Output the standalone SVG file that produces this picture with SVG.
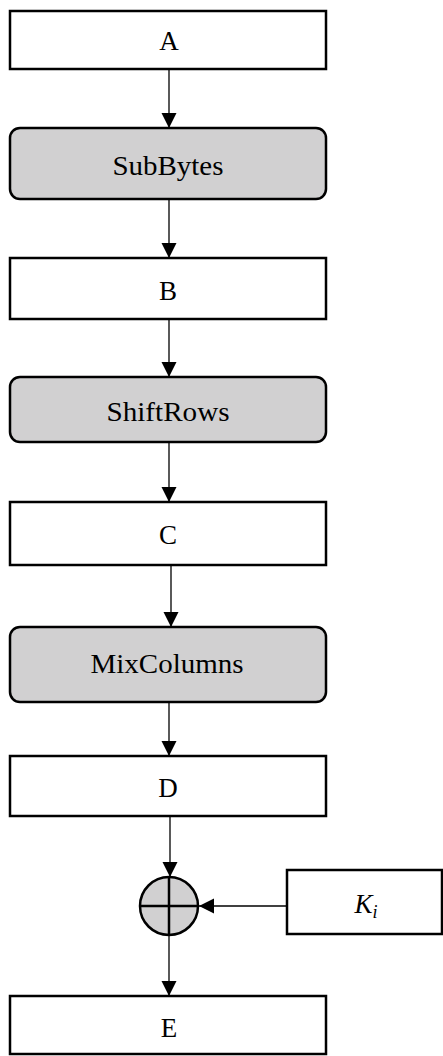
<svg xmlns="http://www.w3.org/2000/svg" width="443" height="1056" viewBox="0 0 443 1056">
<style>
.box{fill:#fff;stroke:#000;stroke-width:2.5}
.op{fill:#d1d0d1;stroke:#000;stroke-width:2.5}
.lbl{font-family:"Liberation Serif","Times New Roman",serif;font-size:27px;fill:#000;text-anchor:middle}
.edge{stroke:#000;stroke-width:1.3;fill:none}
</style>
<defs>
<marker id="arr" markerUnits="userSpaceOnUse" markerWidth="16" markerHeight="16" refX="15" refY="7.5" orient="auto">
<path d="M0,0 L15,7.5 L0,15 z" fill="#000"/>
</marker>
</defs>
<g id="connectors">
<line class="edge" x1="169" y1="69" x2="169" y2="128" marker-end="url(#arr)"/>
<line class="edge" x1="169" y1="199" x2="169" y2="258" marker-end="url(#arr)"/>
<line class="edge" x1="169" y1="319" x2="169" y2="377" marker-end="url(#arr)"/>
<line class="edge" x1="169" y1="442" x2="169" y2="502" marker-end="url(#arr)"/>
<line class="edge" x1="171" y1="565" x2="171" y2="627" marker-end="url(#arr)"/>
<line class="edge" x1="169" y1="690" x2="169" y2="756" marker-end="url(#arr)"/>
<line class="edge" x1="170" y1="816" x2="170" y2="877" marker-end="url(#arr)"/>
<line class="edge" x1="287" y1="906" x2="199" y2="906" marker-end="url(#arr)"/>
<line class="edge" x1="169" y1="935" x2="169" y2="996" marker-end="url(#arr)"/>
</g>
<g id="nodeA"><rect class="box" x="10" y="11" width="316" height="58"/><text class="lbl" x="169" y="50">A</text></g>
<g id="nodeSubBytes"><rect class="op" x="10" y="128" width="316" height="71" rx="10"/><text class="lbl" x="168" y="175" textLength="111" lengthAdjust="spacingAndGlyphs">SubBytes</text></g>
<g id="nodeB"><rect class="box" x="10" y="258" width="316" height="61"/><text class="lbl" x="168" y="300">B</text></g>
<g id="nodeShiftRows"><rect class="op" x="10" y="377" width="316" height="65" rx="10"/><text class="lbl" x="168" y="421" textLength="123" lengthAdjust="spacingAndGlyphs">ShiftRows</text></g>
<g id="nodeC"><rect class="box" x="10" y="502" width="316" height="63"/><text class="lbl" x="168" y="544">C</text></g>
<g id="nodeMixColumns"><rect class="op" x="10" y="627" width="316" height="75" rx="10"/><text class="lbl" x="167" y="673" textLength="153" lengthAdjust="spacingAndGlyphs">MixColumns</text></g>
<g id="nodeD"><rect class="box" x="10" y="756" width="316" height="60"/><text class="lbl" x="168" y="797">D</text></g>
<g id="nodeXor"><circle class="op" cx="169" cy="906" r="29"/><line x1="140" y1="906" x2="198" y2="906" stroke="#000" stroke-width="2.5"/><line x1="169" y1="877" x2="169" y2="935" stroke="#000" stroke-width="2.5"/></g>
<g id="nodeKi"><rect class="box" x="287" y="870" width="155" height="64"/><text class="lbl" x="366" y="913" font-style="italic">K<tspan font-size="18" dy="5">i</tspan></text></g>
<g id="nodeE"><rect class="box" x="10" y="996" width="316" height="58"/><text class="lbl" x="169" y="1037">E</text></g>
</svg>
